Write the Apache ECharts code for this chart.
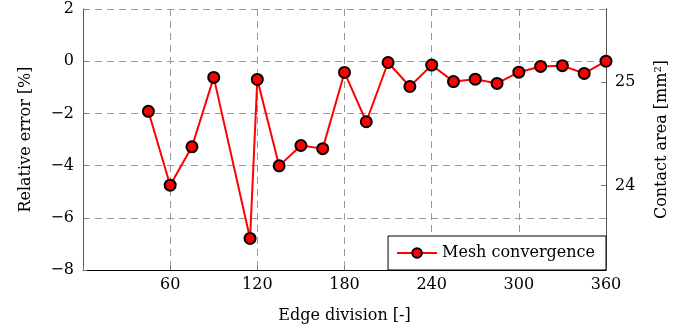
<!DOCTYPE html>
<html>
<head>
<meta charset="utf-8">
<script src="https://cdn.jsdelivr.net/npm/echarts@6/dist/echarts.min.js"></script>
<style>
html, body { margin: 0; padding: 0; background: #fff; }
#chart { width: 688px; height: 333px; }
</style>
</head>
<body>
<div id="chart"></div>
<script>
// edge division and relative error (%)
var divisions = [45, 60, 75, 90, 115, 120, 135, 150, 165, 180, 195, 210, 225, 240, 255, 270, 285, 300, 315, 330, 345, 360];
var relError = [-1.92, -4.75, -3.28, -0.62, -6.79, -0.70, -4.01, -3.23, -3.35, -0.43, -2.32, -0.05, -0.97, -0.15, -0.78, -0.69, -0.85, -0.42, -0.20, -0.17, -0.47, 0];
var areaTicks = [24, 25];
var refArea = 25.2; // area at 0 % error

var FONT = 'DejaVu Serif';
var gridColor = '#999';
var gridDash = [7, 5];

var points = [];
for (var i = 0; i < divisions.length; i++) {
	points.push([divisions[i], relError[i]]);
}

var chart = echarts.init(document.getElementById('chart'));
var option = {
	animation: false,
	textStyle: { fontFamily: FONT, color: '#000' },
	grid: { left: 83, right: 82, top: 9, bottom: 63 },
	legend: {
		right: 82,
		bottom: 63,
		orient: 'horizontal',
		data: ['Mesh convergence'],
		backgroundColor: '#fff',
		borderColor: '#000',
		borderWidth: 1,
		borderRadius: 0,
		padding: [9, 11, 9, 8],
		itemWidth: 40,
		itemHeight: 12,
		itemGap: 6,
		textStyle: { fontFamily: FONT, fontSize: 16, color: '#000' }
	},
	xAxis: {
		type: 'value',
		min: 0,
		max: 360,
		interval: 60,
		name: 'Edge division [-]',
		nameLocation: 'middle',
		nameGap: 38,
		nameTextStyle: { fontFamily: FONT, fontSize: 16, color: '#000' },
		axisLine: { onZero: false, lineStyle: { color: '#000', width: 1 } },
		axisTick: { inside: true, length: 4, lineStyle: { color: '#777' } },
		axisLabel: {
			fontFamily: FONT, fontSize: 16, color: '#000', margin: 7,
			formatter: function(v) { return v === 0 ? '' : v; }
		},
		splitLine: { show: true, lineStyle: { color: gridColor, type: gridDash, width: 1 } }
	},
	yAxis: [
		{
			type: 'value',
			min: -8,
			max: 2,
			interval: 2,
			name: 'Relative error [%]',
			nameLocation: 'middle',
			nameGap: 49,
			nameRotate: 90,
			nameTextStyle: { fontFamily: FONT, fontSize: 16, color: '#000' },
			axisLine: { show: true, lineStyle: { color: '#555', width: 1 } },
			axisTick: { show: true, inside: true, length: 4, lineStyle: { color: '#777' } },
			axisLabel: {
				fontFamily: FONT, fontSize: 16, color: '#000', margin: 9,
				formatter: function(v) { return String(v).replace('-', '\u2212'); }
			},
			splitLine: { show: true, lineStyle: { color: gridColor, type: gridDash, width: 1 } }
		},
		{
			type: 'value',
			position: 'right',
			min: refArea * 0.92,
			max: refArea * 1.02,
			name: 'Contact area [mm\u00b2]',
			nameLocation: 'middle',
			nameGap: 48,
			nameRotate: 90,
			nameTextStyle: { fontFamily: FONT, fontSize: 16, color: '#000' },
			axisLine: { show: true, lineStyle: { color: '#555', width: 1 } },
			axisTick: { show: true, inside: true, length: 5, customValues: areaTicks, lineStyle: { color: '#777' } },
			axisLabel: { fontFamily: FONT, fontSize: 16, color: '#000', margin: 9, customValues: areaTicks },
			splitLine: { show: false }
		}
	],
	series: [
		{
			name: 'Mesh convergence',
			type: 'line',
			yAxisIndex: 0,
			data: points,
			symbol: 'circle',
			symbolSize: 11,
			lineStyle: { color: '#ff0000', width: 2 },
			itemStyle: { color: '#ff0000', borderColor: '#000', borderWidth: 2 },
			z: 5
		}
	]
};
chart.setOption(option);
</script>
</body>
</html>
